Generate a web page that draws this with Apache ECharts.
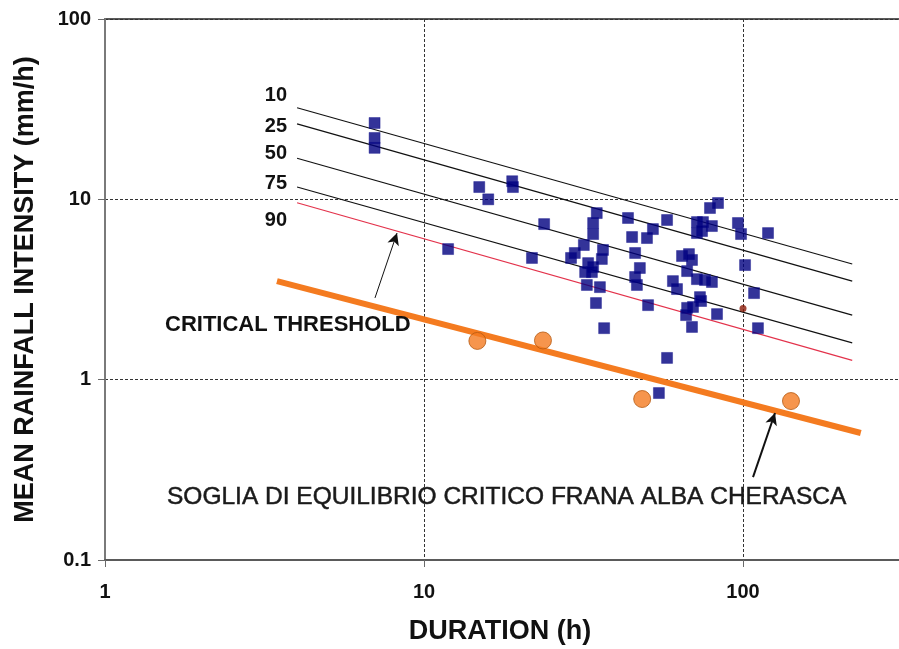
<!DOCTYPE html>
<html><head><meta charset="utf-8">
<script src="https://cdn.jsdelivr.net/npm/echarts@6/dist/echarts.min.js"></script>
<style>html,body{margin:0;padding:0;background:#fff}#c{width:899px;height:649px}</style>
</head><body><div id="c"></div>
<script>
// ---- data ----
const squareDur = [7.0,7.0,7.0,14.9,15.9,18.9,19.0,11.9,23.8,21.8,34.8,33.9,33.9,31.7,29.7,28.9,36.4,36.1,32.7,33.9,32.0,33.6,32.4,35.6,34.6,36.7,43.6,44.9,50.0,52.2,57.8,45.9,47.5,45.9,46.5,50.4,57.8,54.5,83.5,78.8,71.7,74.9,79.9,71.7,74.4,96.4,98.6,119.8,64.4,67.7,69.2,66.8,71.7,76.0,79.9,60.3,62.1,73.3,101.5,108.3,66.8,69.7,66.3,69.2,73.9,82.9,111.4];
const squareInt = [26.5,21.9,19.3,11.7,10.0,12.6,11.7,5.30,7.29,4.73,8.39,7.39,6.42,5.58,5.04,4.73,5.24,4.67,4.43,4.21,3.95,3.95,3.35,3.26,2.66,1.93,7.88,6.18,6.10,6.84,7.68,5.04,4.16,3.71,3.35,2.59,1.32,0.843,9.54,8.95,7.48,7.48,7.11,6.50,6.67,7.39,6.42,6.50,4.85,4.97,4.61,4.00,3.61,3.57,3.48,3.52,3.18,2.87,4.32,3.02,2.50,2.53,2.28,1.96,2.73,2.31,1.93];
const circleDur = [14.7,23.6,48.3,141.4];
const circleInt = [1.64,1.65,0.781,0.761];
const redDotDur = [100];
const redDotInt = [2.48];
const pctLabels = ['10','25','50','75','90'];
const pctDur = [4.0, 220];
const pctStart = [32.2, 26.2, 16.9, 11.7, 9.57];
const pctEnd = [4.38, 3.52, 2.28, 1.60, 1.28];
const thrDur = [3.46, 234];
const thrInt = [3.52, 0.506];
const arrowsFrom = [[7.02, 2.84],[107.5, 0.288]];
const arrowsTo = [[8.23, 6.50],[126, 0.653]];

const FONT = 'Liberation Sans, Arial, sans-serif';
const chart = echarts.init(document.getElementById('c'), null, {renderer:'canvas'});

const series = [];
pctLabels.forEach((p,i)=>{
  series.push({type:'line', name:'P'+p, silent:true, symbol:'none', z:2,
    lineStyle:{color: p==='90' ? '#e3324b' : '#111', width: 1.2},
    data:[[pctDur[0], pctStart[i]],[pctDur[1], pctEnd[i]]]});
});
series.push({type:'scatter', name:'events', symbol:'rect', symbolSize:11, z:3,
  itemStyle:{color:'#000080', borderColor:'#10108a', borderWidth:0.5},
  data: squareDur.map((d,i)=>[d, squareInt[i]])});
series.push({type:'scatter', name:'reddot', symbol:'circle', symbolSize:7, z:3,
  itemStyle:{color:'#8a1a08'}, data: redDotDur.map((d,i)=>[d, redDotInt[i]])});
series.push({type:'line', name:'threshold', symbol:'none', z:4,
  lineStyle:{color:'#f47b20', width:6, cap:'butt'},
  data: thrDur.map((d,i)=>[d, thrInt[i]]),
  markLine:{silent:true, symbol:['none','arrow'], symbolSize:[9,12], label:{show:false},
    lineStyle:{color:'#111', type:'solid'},
    data: arrowsFrom.map((f,i)=>[{coord:f, lineStyle:{width: i===0?1:2}},{coord:arrowsTo[i]}])}});
series.push({type:'scatter', name:'alba', symbol:'circle', symbolSize:17, z:5,
  itemStyle:{color:'#f47b20', borderColor:'#b55a12', borderWidth:1},
  data: circleDur.map((d,i)=>[d, circleInt[i]])});

const labelYs = [95,126,153,183,220];
const graphic = pctLabels.map((p,i)=>({type:'text', x:287, y:labelYs[i], z:10,
  style:{text:p, fill:'#111', font:'bold 20px '+FONT, textAlign:'right', textVerticalAlign:'middle'}}));
graphic.push({type:'text', x:165, y:325, z:10, style:{text:'CRITICAL THRESHOLD', fill:'#111', font:'bold 22px '+FONT, textVerticalAlign:'middle'}});
graphic.push({type:'text', x:167, y:497, z:10, style:{text:'SOGLIA DI EQUILIBRIO CRITICO FRANA ALBA CHERASCA', fill:'#1a1a1a', font:'24.5px '+FONT, textVerticalAlign:'middle', stroke:'#1a1a1a', lineWidth:0.5}});
graphic.push({type:'text', x:500, y:632, z:10, style:{text:'DURATION (h)', fill:'#111', font:'bold 27px '+FONT, textAlign:'center', textVerticalAlign:'middle'}});

chart.setOption({
  animation:false,
  backgroundColor:'#fff',
  grid:{left:105, top:19, bottom:89, right:-163, containLabel:false, outerBoundsMode:'none',
    show:true, borderColor:'#5a5a5a', borderWidth:2, backgroundColor:'transparent'},
  xAxis:{type:'log', logBase:10, min:1, max:1000,
    axisLine:{show:true, lineStyle:{color:'#5a5a5a', width:2}},
    axisTick:{show:true, length:7, lineStyle:{color:'#6a6a6a', width:1}},
    minorTick:{show:false},
    splitLine:{show:true, lineStyle:{color:'#333', width:1, type:[3,2]}},
    axisLabel:{margin:22, color:'#111', fontSize:20, fontWeight:'bold', fontFamily:FONT,
      formatter:(v)=> String(Math.round(v))}},
  yAxis:{type:'log', logBase:10, min:0.1, max:100,
    name:'MEAN RAINFALL INTENSITY (mm/h)', nameLocation:'middle', nameGap:66,
    nameTextStyle:{fontSize:27, fontWeight:'bold', color:'#111', fontFamily:FONT},
    axisLine:{show:true, lineStyle:{color:'#7a7a7a', width:2}},
    axisTick:{show:true, length:7, lineStyle:{color:'#6a6a6a', width:1}},
    splitLine:{show:true, lineStyle:{color:'#333', width:1, type:[3,2]}},
    axisLabel:{margin:14, color:'#111', fontSize:20, fontWeight:'bold', fontFamily:FONT,
      formatter:(v)=> (v<1 ? String(Math.round(v*10)/10) : String(Math.round(v)))}},
  graphic: graphic,
  series: series
});
</script></body></html>
